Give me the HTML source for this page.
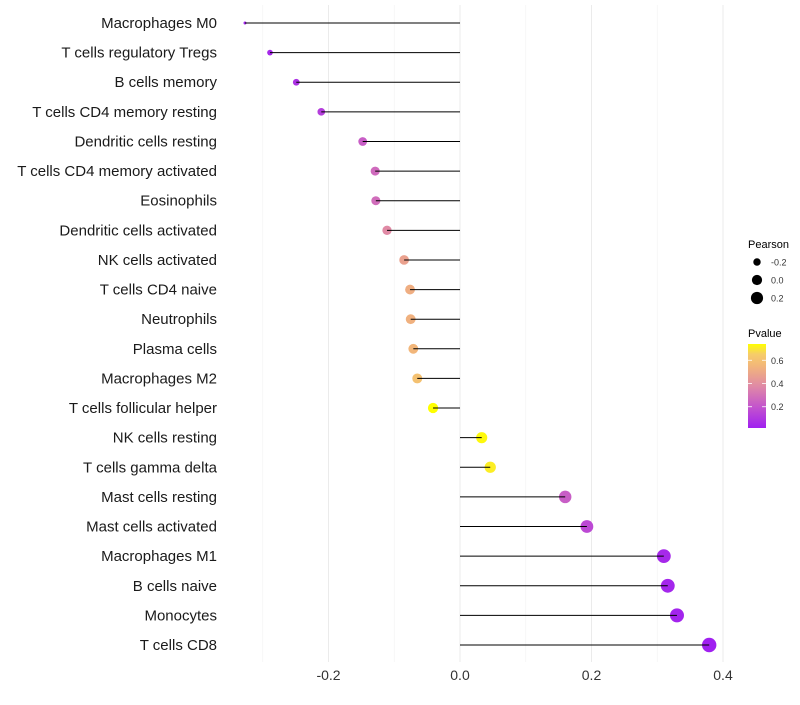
<!DOCTYPE html>
<html><head><meta charset="utf-8"><style>
body{margin:0;background:#fff;font-family:"Liberation Sans",sans-serif;}
</style></head><body>
<svg id="chart" width="800" height="700" xmlns="http://www.w3.org/2000/svg"></svg>
<script>
const categories=["Macrophages M0","T cells regulatory  Tregs","B cells memory","T cells CD4 memory resting","Dendritic cells resting","T cells CD4 memory activated","Eosinophils","Dendritic cells activated","NK cells activated","T cells CD4 naive","Neutrophils","Plasma cells","Macrophages M2","T cells follicular helper","NK cells resting","T cells gamma delta","Mast cells resting","Mast cells activated","Macrophages M1","B cells naive","Monocytes","T cells CD8"];
const pearson=[-0.327,-0.289,-0.249,-0.211,-0.148,-0.129,-0.128,-0.111,-0.085,-0.076,-0.075,-0.071,-0.065,-0.041,0.033,0.046,0.160,0.193,0.310,0.316,0.330,0.379];
const pvalue=[0.03,0.05,0.08,0.12,0.23,0.27,0.28,0.38,0.47,0.52,0.53,0.55,0.6,0.74,0.73,0.71,0.23,0.16,0.05,0.04,0.03,0.017];
const xTicks=[-0.2,0,0.2,0.4];
const xTickLabels=["-0.2","0.0","0.2","0.4"];
const xMinor=[-0.3,-0.1,0.1,0.3];
const sizeLegend=[-0.2,0,0.2];
const sizeLegendLabels=["-0.2","0.0","0.2"];
const pTicks=[0.2,0.4,0.6];
const pTickLabels=["0.2","0.4","0.6"];

const NS="http://www.w3.org/2000/svg";
const svg=document.getElementById('chart');
function mk(t,a,parent){const e=document.createElementNS(NS,t);for(const k in a)e.setAttribute(k,a[k]);(parent||svg).appendChild(e);return e;}
const x=v=>460+v*657.5;
const y=i=>23+i*(645-23)/(categories.length-1);
const pMin=0.017,pMax=0.74;
const gStops=[[0,[160,32,240]],[0.25,[195,84,205]],[0.5,[224,138,165]],[0.75,[243,184,120]],[0.88,[246,205,105]],[1,[255,255,0]]];
function colT(t){t=Math.max(0,Math.min(1,t));
 for(let k=1;k<gStops.length;k++){if(t<=gStops[k][0]){const [t0,a]=gStops[k-1],[t1,b]=gStops[k];const u=(t-t0)/(t1-t0);
  return `rgb(${a.map((c,i)=>Math.round(c+(b[i]-c)*u)).join(',')})`;}}
 return 'rgb(255,255,0)';}
const col=p=>colT((p-pMin)/(pMax-pMin));
const vMin=Math.min(...pearson),vMax=Math.max(...pearson);
function rad(v){const t=Math.max(0,(v-vMin)/(vMax-vMin));return 1.5+5.7*Math.sqrt(t);}

xMinor.forEach(v=>{const g=mk('line',{x1:x(v),x2:x(v),y1:5,y2:662,stroke:'#f2f2f2','stroke-width':0.6});});
xTicks.forEach((v,i)=>{const g=mk('line',{x1:x(v),x2:x(v),y1:5,y2:662,stroke:'#ebebeb','stroke-width':1});
 const t=mk('text',{x:x(v),y:680,'text-anchor':'middle','font-size':14,fill:'#333'});t.textContent=xTickLabels[i];
 });
categories.forEach((c,i)=>{
 const t=mk('text',{x:217,y:y(i)+5,'text-anchor':'end','font-size':15,fill:'#1a1a1a'});t.textContent=c;
 
 const p=mk('circle',{cx:x(pearson[i]),cy:y(i),r:rad(pearson[i]),fill:col(pvalue[i])});
 
 const l=mk('line',{x1:x(0),x2:x(pearson[i]),y1:y(i),y2:y(i),stroke:'#000','stroke-width':1});
 
});
const lt=mk('text',{x:748,y:248,'font-size':11,fill:'#000'});lt.textContent='Pearson';

sizeLegend.forEach((v,i)=>{const cy=262+i*18;
 const c=mk('circle',{cx:757,cy:cy,r:rad(v)*0.95,fill:'#000'});
 const t=mk('text',{x:771,y:cy+3.5,'font-size':9,fill:'#333'});t.textContent=sizeLegendLabels[i];
 });
const pt=mk('text',{x:748,y:337,'font-size':11,fill:'#000'});pt.textContent='Pvalue';

const defs=mk('defs',{});const gr=mk('linearGradient',{id:'pg',x1:0,y1:1,x2:0,y2:0},defs);
gStops.forEach(s=>mk('stop',{offset:s[0],'stop-color':colT(s[0])},gr));
const cb=mk('rect',{x:748,y:344,width:18,height:84,fill:'url(#pg)'});
const py=p=>428-(p-pMin)/(pMax-pMin)*84;
pTicks.forEach((p,i)=>{mk('line',{x1:748,x2:752,y1:py(p),y2:py(p),stroke:'#fff','stroke-width':0.8});mk('line',{x1:762,x2:766,y1:py(p),y2:py(p),stroke:'#fff','stroke-width':0.8});
 const t=mk('text',{x:771,y:py(p)+3.5,'font-size':9,fill:'#333'});t.textContent=pTickLabels[i];
 });
</script>
</body></html>
